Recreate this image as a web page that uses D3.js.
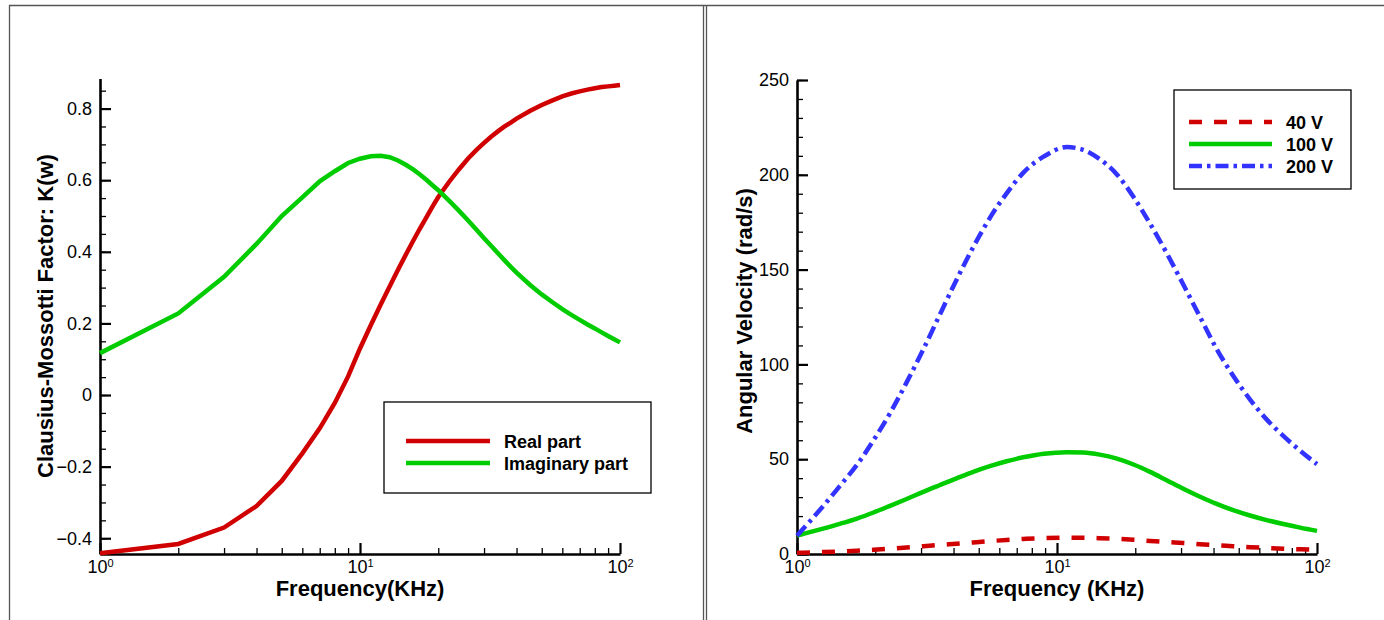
<!DOCTYPE html>
<html>
<head>
<meta charset="utf-8">
<script src="https://cdn.jsdelivr.net/npm/d3@7"></script>
<style>
  html, body { margin: 0; padding: 0; background: #fff; }
  svg { display: block; font-family: "Liberation Sans", Arial, Helvetica, sans-serif; }
  .axis .domain { stroke: #000; stroke-width: 2.6; }
  .axis .tick line { stroke: #000; }
  .axis.major .tick line { stroke-width: 2.2; }
  .axis.minor .tick line { stroke-width: 1.3; }
  .axis text { font-size: 18px; fill: #000; font-family: "Liberation Sans", Arial, sans-serif; }
  .title { font-size: 22px; font-weight: bold; fill: #000; }
  .legend text { font-size: 18px; font-weight: bold; fill: #000; }
</style>
</head>
<body>
<svg id="chart" width="1384" height="620"></svg>
<script>
// ---- Clausius-Mossotti factor vs frequency (kHz) ----
const cmFreq = [1, 2, 3, 4, 5, 6, 7, 8, 9, 10, 11, 12, 13, 14, 15, 16, 17, 18, 19, 20,
  22, 24, 26, 28, 30, 32, 34, 36, 38, 40, 45, 50, 55, 60, 65, 70, 75, 80, 85, 90, 95, 100];
const realPart = [-0.442, -0.416, -0.370, -0.310, -0.240, -0.163, -0.093, -0.022, 0.052, 0.130,
  0.195, 0.252, 0.303, 0.350, 0.392, 0.430, 0.465, 0.496, 0.526, 0.553,
  0.595, 0.630, 0.660, 0.684, 0.704, 0.722, 0.737, 0.750, 0.761, 0.772,
  0.793, 0.810, 0.823, 0.834, 0.842, 0.848, 0.853, 0.857, 0.860, 0.862, 0.864, 0.866];
const imagPart = [0.117, 0.228, 0.330, 0.422, 0.500, 0.552, 0.597, 0.625, 0.648, 0.660,
  0.667, 0.668, 0.664, 0.655, 0.643, 0.630, 0.616, 0.601, 0.586, 0.572,
  0.543, 0.515, 0.488, 0.462, 0.438, 0.416, 0.395, 0.376, 0.358, 0.342,
  0.308, 0.281, 0.259, 0.240, 0.224, 0.210, 0.197, 0.186, 0.175, 0.165, 0.156, 0.147];
const cmNames = ["Real part", "Imaginary part"];
const cmTicks = [-0.4, -0.2, 0, 0.2, 0.4, 0.6, 0.8];

// ---- Angular velocity vs frequency (kHz) ----
const avFreq = [1, 1.12, 1.26, 1.46, 1.7, 1.97, 2.28, 2.64, 3.06, 3.55, 4.11, 4.76, 5.52, 6.4, 7.41, 8.91,
  10.9, 12.6, 14.6, 17, 19.7, 22.8, 26.4, 30.6, 35.5, 41.1, 47.6, 55.2, 64, 74.2, 86.1, 100];
const av40 = [0.6, 0.8, 1.0, 1.3, 1.7, 2.2, 2.8, 3.4, 4.1, 4.8, 5.4, 6.1, 6.8, 7.4, 7.9, 8.4,
  8.6, 8.55, 8.35, 8.0, 7.5, 6.9, 6.3, 5.8, 5.2, 4.6, 4.1, 3.6, 3.2, 2.8, 2.5, 2.2];
const av100 = [9.7, 11.5, 13.4, 15.9, 18.7, 21.9, 25.4, 29.0, 32.8, 36.4, 39.9, 43.3, 46.3, 48.9, 51.0, 52.9,
  53.7, 53.5, 52.4, 50.3, 47.2, 43.3, 38.9, 34.4, 30.2, 26.4, 23.1, 20.3, 17.9, 15.8, 13.9, 12.2];
const av200 = [9.6, 17.2, 25.2, 35.8, 47.0, 60.0, 74.3, 90.5, 107.9, 126.5, 144.7, 161.8, 177.3, 190.2, 201.0, 209.7,
  214.6, 213.2, 208.3, 200.2, 188.3, 174.2, 158.8, 142.1, 125.0, 108.2, 94.0, 81.6, 71.0, 62.3, 54.5, 47.4];
const avNames = ["40 V", "100 V", "200 V"];
const avTicks = [0, 50, 100, 150, 200, 250];

const decadeTicks = [1, 10, 100];
const minorDecade = [2, 3, 4, 5, 6, 7, 8, 9, 20, 30, 40, 50, 60, 70, 80, 90];

const RED = "#d00000", GREEN = "#00cc00", BLUE = "#3333ff";

const svg = d3.select("#chart");

// frame lines around the two panels
const frame = svg.append("g").attr("stroke", "#555").attr("stroke-width", 1.3).attr("fill", "none");
frame.append("line").attr("x1", 9).attr("x2", 1384).attr("y1", 5.5).attr("y2", 5.5);
frame.append("line").attr("x1", 9.5).attr("x2", 9.5).attr("y1", 5).attr("y2", 620);
frame.append("line").attr("x1", 703.5).attr("x2", 703.5).attr("y1", 5).attr("y2", 620);
frame.append("line").attr("x1", 706.5).attr("x2", 706.5).attr("y1", 5).attr("y2", 620);

function powerLabel(sel) {
  sel.selectAll(".tick text").each(function (d) {
    const t = d3.select(this);
    t.text("10");
    t.append("tspan").attr("font-size", "11px").attr("dy", "-0.55em").text(Math.round(Math.log10(d)));
  });
}

function drawPanel(opt) {
  const g = svg.append("g");
  const x = d3.scaleLog().domain([1, 100]).range(opt.xRange);
  const y = d3.scaleLinear().domain(opt.yDomain).range(opt.yRange);

  // y axis: minor then major ticks, pointing inward
  g.append("g").attr("class", "axis minor").attr("transform", `translate(${opt.xRange[0]},0)`)
    .call(d3.axisLeft(y).tickValues(opt.yMinor).tickSize(-6).tickSizeOuter(0).tickFormat(""))
    .select(".domain").remove();
  g.append("g").attr("class", "axis major").attr("transform", `translate(${opt.xRange[0]},0)`)
    .call(d3.axisLeft(y).tickValues(opt.yTicks).tickSize(-11).tickSizeOuter(0).tickPadding(8).tickFormat(opt.yFormat));

  // x axis
  const y0 = opt.yRange[0];
  g.append("g").attr("class", "axis minor").attr("transform", `translate(0,${y0})`)
    .call(d3.axisBottom(x).tickValues(minorDecade).tickSize(-6).tickSizeOuter(0).tickFormat(""))
    .select(".domain").remove();
  g.append("g").attr("class", "axis major").attr("transform", `translate(0,${y0})`)
    .call(d3.axisBottom(x).tickValues(decadeTicks).tickSize(-11).tickSizeOuter(0).tickPadding(6))
    .call(powerLabel);

  // series
  opt.series.forEach(s => {
    const line = d3.line().x((d, i) => x(opt.freq[i])).y(d => y(d)).curve(opt.curve);
    g.append("path").datum(s.values)
      .attr("fill", "none").attr("stroke", s.color).attr("stroke-width", 4.5)
      .attr("stroke-dasharray", s.dash || null)
      .attr("d", line);
  });

  // axis titles
  const xMid = (opt.xRange[0] + opt.xRange[1]) / 2;
  g.append("text").attr("class", "title").attr("text-anchor", "middle")
    .attr("x", xMid).attr("y", 596).text(opt.xTitle);
  g.append("text").attr("class", "title").attr("text-anchor", "middle")
    .attr("transform", `translate(${opt.yTitleX},${opt.yTitleY}) rotate(-90)`).text(opt.yTitle);

  // legend
  const L = opt.legend;
  const lg = g.append("g").attr("class", "legend");
  lg.append("rect").attr("x", L.x).attr("y", L.y).attr("width", L.w).attr("height", L.h)
    .attr("fill", "#fff").attr("stroke", "#000").attr("stroke-width", 1.3);
  opt.series.forEach((s, i) => {
    const ly = L.firstY + i * L.step;
    lg.append("line").attr("x1", L.lineX1).attr("x2", L.lineX2).attr("y1", ly).attr("y2", ly)
      .attr("stroke", s.color).attr("stroke-width", 4.5).attr("stroke-dasharray", s.dash || null);
    lg.append("text").attr("x", L.textX).attr("y", ly + 6.5).text(s.name);
  });
}

drawPanel({
  xRange: [100, 620],
  yDomain: [-0.444, 0.884],
  yRange: [554, 78.5],
  yTicks: cmTicks,
  yMinor: d3.range(-0.4, 0.8501, 0.05).map(v => +v.toFixed(2)),
  yFormat: d => (d === 0 ? "0" : d3.format(".1f")(d)),
  freq: cmFreq,
  curve: d3.curveLinear,
  series: [
    { name: cmNames[0], values: realPart, color: RED },
    { name: cmNames[1], values: imagPart, color: GREEN }
  ],
  xTitle: "Frequency(KHz)",
  yTitle: "Clausius-Mossotti Factor: K(w)",
  yTitleX: 53, yTitleY: 316,
  legend: { x: 384, y: 402, w: 267, h: 91, firstY: 441, step: 22, lineX1: 406, lineX2: 490, textX: 504 }
});

drawPanel({
  xRange: [797, 1317],
  yDomain: [0, 250],
  yRange: [554, 80],
  yTicks: avTicks,
  yMinor: d3.range(0, 251, 10),
  yFormat: d3.format("d"),
  freq: avFreq,
  curve: d3.curveMonotoneX,
  series: [
    { name: avNames[0], values: av40, color: RED, dash: "13,12" },
    { name: avNames[1], values: av100, color: GREEN },
    { name: avNames[2], values: av200, color: BLUE, dash: "13,5,3.5,5" }
  ],
  xTitle: "Frequency (KHz)",
  yTitle: "Angular Velocity (rad/s)",
  yTitleX: 752, yTitleY: 311,
  legend: { x: 1174, y: 90, w: 177, h: 99, firstY: 122, step: 22, lineX1: 1189, lineX2: 1272, textX: 1286 }
});
</script>
</body>
</html>
